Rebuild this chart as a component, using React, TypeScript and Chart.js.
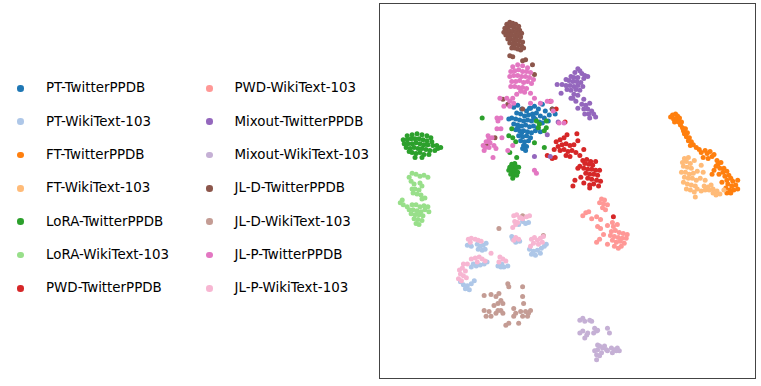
import React, { useEffect, useRef } from "react";
import { Chart, registerables } from "chart.js";

Chart.register(...registerables);

type P = [number, number];

// t-SNE embedding coordinates (arbitrary units, y grows downward)
const PT_TWITTER: P[] = [
  [513,106],[517,104],[521,108],[526,110],[530,107],[534,105],[538,108],[542,103],[545,110],[549,114],
  [516,112],[520,113],[524,115],[528,114],[532,113],[536,112],[540,115],[544,117],[511,117],[515,118],
  [519,119],[523,120],[527,119],[531,120],[535,118],[539,121],[513,123],[517,124],[521,125],[525,124],
  [529,126],[533,125],[537,127],[515,129],[519,130],[523,130],[527,131],[531,132],[535,130],[518,135],
  [522,136],[526,135],[530,137],[520,140],[524,141],[528,140],[523,145],[526,146],[522,148],[525,150],
  [542,122],[548,120],[508,118],[540,131],[529,107],[552,108],[555,113],[533,116],[521,132],[517,127],
];
const PT_WIKI: P[] = [
  [522,222],[525,224],[528,223],[518,225],[512,240],[515,243],[519,242],[511,237],
  [529,250],[533,252],[537,251],[541,249],[544,247],[531,255],[535,256],[540,254],[546,245],
  [497,267],[500,268],[503,268],[507,267],[501,265],
  [466,246],[470,247],[476,245],[479,247],[482,246],[485,244],[477,250],[481,251],[484,250],
  [472,265],[475,267],[479,266],[483,265],[486,263],[470,268],
  [459,283],[462,286],[466,287],[470,285],[473,282],[464,290],[468,291],
];
const FT_TWITTER: P[] = [
  [672,116],[674,114],[677,113],[679,115],[675,118],[678,118],[681,117],[676,121],[680,121],[683,121],
  [682,124],[684,127],[685,130],[687,128],[686,133],[689,132],[688,136],[691,137],[690,140],[693,141],
  [695,144],[692,145],[698,147],[701,149],[703,152],[707,150],[709,153],[712,151],[714,156],[716,154],
  [710,158],[705,157],[719,160],[720,164],[723,162],[718,166],[722,168],[726,168],[729,171],[725,172],
  [721,174],[731,175],[727,176],[733,178],[729,180],[735,181],[724,182],[730,184],[734,186],[738,185],
  [728,188],[732,190],[736,190],[729,193],[733,193],[740,180],[740,189],[716,170],[714,174],
];
const FT_WIKI: P[] = [
  [686,158],[690,157],[684,162],[688,161],[692,163],[696,160],[685,166],[689,167],[693,168],[683,172],
  [687,172],[691,174],[695,173],[699,171],[686,177],[690,178],[694,178],[698,180],[685,182],[689,184],
  [693,185],[697,186],[688,189],[692,190],[696,192],[699,189],[703,191],[707,190],[711,190],[713,185],
  [706,186],[710,187],[715,189],[719,191],[722,194],[718,195],[702,178],[705,172],[703,165],[707,180],
  [715,193],[726,190],[697,197],
];
const LORA_TWITTER: P[] = [
  [405,135],[410,134],[415,133],[420,134],[425,135],[429,137],[401,139],[405,139],[409,138],[413,138],
  [417,138],[421,139],[425,140],[430,141],[402,143],[406,143],[410,143],[414,142],[418,143],[422,144],
  [426,144],[431,145],[435,145],[439,147],[404,147],[408,148],[412,147],[416,148],[420,148],[424,149],
  [428,150],[433,150],[436,148],[410,152],[414,153],[418,152],[422,154],[427,154],[407,151],[420,157],[413,157],
  [511,164],[514,163],[509,167],[512,167],[515,168],[518,167],[508,170],[511,171],[514,171],[517,172],
  [510,174],[513,175],[516,175],[512,178],[515,166],
  [481,117],[511,128],[512,137],[509,152],[516,157],[544,147],[534,142],[544,130],[546,127],[539,123],
  [546,120],[508,135],[515,141],[538,127],[536,120],
];
const LORA_WIKI: P[] = [
  [410,173],[414,174],[418,176],[422,175],[426,177],[407,177],[409,181],[412,184],[418,183],[420,186],
  [410,189],[413,189],[417,190],[411,193],[415,194],[419,195],[420,199],[423,198],
  [400,200],[398,203],[401,205],[405,207],[410,205],[414,205],[418,207],[422,206],[426,207],[407,210],
  [411,210],[415,211],[419,212],[423,210],[427,212],[409,214],[413,215],[417,215],[421,216],[412,219],
  [416,220],[420,221],[414,224],[417,225],
];
const PWD_TWITTER: P[] = [
  [556,141],[560,139],[564,137],[567,134],[577,133],[578,140],[558,146],[562,144],[566,143],[570,145],
  [574,144],[554,149],[560,150],[564,149],[568,151],[572,150],[576,152],[566,155],[570,156],[580,155],
  [584,149],[583,160],[587,159],[591,161],[585,163],[589,164],[593,165],[596,161],[580,166],[584,168],
  [588,169],[592,169],[596,170],[586,173],[590,174],[594,174],[598,175],[581,177],[588,178],[592,179],
  [597,180],[601,181],[584,183],[590,185],[594,184],[599,186],[575,180],[573,186],[578,168],[600,170],
  [555,157],[552,158],[547,155],[590,188],[614,217],[550,100],[556,108],[565,121],
];
const PWD_WIKI: P[] = [
  [602,199],[605,200],[600,203],[604,204],[608,205],[603,208],[606,210],[586,213],[589,212],[583,216],
  [592,219],[597,217],[601,220],[598,227],[601,229],[608,226],[604,235],[600,240],[597,243],[613,223],
  [614,227],[618,225],[612,232],[616,231],[620,233],[624,234],[628,235],[611,236],[615,237],[619,238],
  [623,239],[627,239],[613,241],[617,243],[621,242],[625,244],[615,247],[619,249],[608,245],[622,247],
];
const MIXOUT_TWITTER: P[] = [
  [578,67],[580,69],[575,71],[582,72],[585,74],[571,75],[574,76],[578,76],[584,77],[588,75],
  [566,78],[569,79],[573,80],[577,80],[581,81],[557,83],[562,83],[566,84],[570,84],[574,85],
  [578,84],[583,85],[567,88],[571,89],[576,88],[580,89],[561,92],[574,93],[578,94],[571,97],
  [584,98],[576,100],[582,103],[586,104],[590,102],[578,107],[584,108],[588,108],[592,110],[589,113],
  [594,113],[596,116],[590,117],[585,113],[573,97],[547,134],[534,156],[550,156],[558,121],
];
const MIXOUT_WIKI: P[] = [
  [580,322],[583,320],[585,323],[590,322],[592,323],[580,335],[583,333],[587,337],[588,335],[585,340],
  [595,330],[597,333],[598,332],[594,335],[608,330],[610,335],[598,347],[600,348],[603,350],[607,352],
  [595,353],[597,357],[600,358],[597,362],[602,355],[605,348],[612,350],[615,352],[618,350],[620,353],
  [613,355],[617,353],[608,353],[598,352],
];
const JLD_TWITTER: P[] = [
  [506,22],[509,20],[512,21],[515,22],[518,24],[504,26],[507,25],[510,24],[513,25],[516,27],
  [519,28],[503,30],[506,29],[509,29],[512,29],[515,30],[518,31],[521,31],[505,33],[508,33],
  [511,33],[514,34],[517,34],[520,35],[507,37],[510,37],[513,38],[516,38],[519,39],[522,40],
  [509,41],[512,42],[515,42],[518,43],[521,44],[511,46],[514,46],[517,47],[520,48],[523,46],
  [509,54],[512,55],[522,59],[525,58],[532,63],[534,73],[502,98],[507,103],[522,108],[552,108],
  [494,137],[486,145],
];
const JLD_WIKI: P[] = [
  [507,285],[508,288],[522,288],[483,297],[490,296],[495,298],[498,295],[500,302],[497,305],[502,305],
  [522,298],[523,305],[483,312],[488,313],[485,318],[490,318],[495,315],[500,312],[502,315],[513,310],
  [515,315],[520,313],[525,313],[528,315],[527,318],[522,318],[513,318],[508,325],[505,327],[518,325],
  [497,312],[493,307],[530,312],[498,229],[522,216],[543,236],
];
const JLP_TWITTER: P[] = [
  [512,65],[517,63],[522,64],[527,66],[510,70],[514,69],[518,68],[522,70],[526,70],[530,71],
  [509,75],[513,74],[517,74],[521,75],[525,75],[529,76],[533,78],[511,80],[515,80],[519,79],
  [523,81],[527,80],[531,82],[510,85],[514,85],[518,86],[522,86],[526,87],[520,90],[524,91],
  [530,92],[516,93],[512,97],[534,97],[509,100],
  [487,135],[489,142],[484,147],[492,157],[496,128],[497,120],[496,117],[501,137],[499,97],[506,97],
  [509,105],[534,170],[536,173],[551,100],[559,122],[564,122],[482,145],[485,141],[488,138],[491,137],
  [488,147],[493,145],[483,150],[495,148],[500,128],[500,117],[503,105],[513,102],[530,102],[540,102],
  [547,100],[553,110],[507,150],[512,145],
];
const JLP_WIKI: P[] = [
  [513,216],[516,215],[519,218],[522,219],[526,217],[529,216],[514,222],[517,223],[512,228],[515,238],
  [518,240],[513,241],[520,218],[515,225],
  [531,240],[534,238],[537,241],[540,239],[543,237],[533,244],[538,245],[542,243],[530,247],
  [499,258],[502,260],[505,262],[498,263],
  [467,240],[470,239],[474,240],[477,241],[480,242],[469,243],
  [470,260],[474,259],[478,258],[481,260],[484,262],[476,263],[466,265],[462,265],[490,254],
  [458,271],[461,269],[464,272],[459,275],[462,277],[457,280],[460,282],[465,279],
];

const LABELS = [
  "PT-TwitterPPDB", "PT-WikiText-103", "FT-TwitterPPDB", "FT-WikiText-103",
  "LoRA-TwitterPPDB", "LoRA-WikiText-103", "PWD-TwitterPPDB", "PWD-WikiText-103",
  "Mixout-TwitterPPDB", "Mixout-WikiText-103", "JL-D-TwitterPPDB", "JL-D-WikiText-103",
  "JL-P-TwitterPPDB", "JL-P-WikiText-103",
];
const COLORS = [
  "#1f77b4", "#aec7e8", "#ff7f0e", "#ffbb78", "#2ca02c", "#98df8a", "#d62728",
  "#ff9896", "#9467bd", "#c5b0d5", "#8c564b", "#c49c94", "#e377c2", "#f7b6d2",
];
const SERIES: P[][] = [
  PT_TWITTER, PT_WIKI, FT_TWITTER, FT_WIKI, LORA_TWITTER, LORA_WIKI, PWD_TWITTER,
  PWD_WIKI, MIXOUT_TWITTER, MIXOUT_WIKI, JLD_TWITTER, JLD_WIKI, JLP_TWITTER, JLP_WIKI,
];

const FONT = "'DejaVu Sans', sans-serif";

export default function App() {
  const ref = useRef<HTMLCanvasElement | null>(null);
  useEffect(() => {
    if (!ref.current) return;
    const chart = new Chart(ref.current, {
      type: "scatter",
      data: {
        datasets: SERIES.map((s, i) => ({
          label: LABELS[i],
          data: s.map(([x, y]) => ({ x, y })),
          backgroundColor: COLORS[i],
          borderWidth: 0,
          pointRadius: 2.5,
          pointHoverRadius: 2.5,
          order: SERIES.length - i,
        })),
      },
      options: {
        animation: false,
        responsive: false,
        devicePixelRatio: 1,
        layout: { padding: 0 },
        plugins: { legend: { display: false }, tooltip: { enabled: false } },
        scales: {
          x: { type: "linear", min: 380, max: 756, display: false },
          y: { type: "linear", min: 4, max: 379, reverse: true, display: false },
        },
      },
    });
    return () => chart.destroy();
  }, []);

  return (
    <div style={{ position: "fixed", left: 0, top: 0, width: 761, height: 386, background: "#fff", fontFamily: FONT }}>
      {LABELS.map((lab, i) => {
        const col = i < 7 ? 0 : 1;
        const row = i % 7;
        const cy = 88.3 + row * 33.33;
        const mx = col === 0 ? 20.5 : 209.3;
        const tx = col === 0 ? 46 : 234.5;
        return (
          <React.Fragment key={lab}>
            <div style={{ position: "absolute", left: mx - 3.3, top: cy - 3.3, width: 6.6, height: 6.6, borderRadius: "50%", background: COLORS[i] }} />
            <div style={{ position: "absolute", left: tx, top: cy - 9, height: 18, lineHeight: "18px", fontSize: 13.4, color: "#000", whiteSpace: "nowrap" }}>{lab}</div>
          </React.Fragment>
        );
      })}
      <div style={{ position: "absolute", left: 379, top: 3, width: 375, height: 374, border: "1px solid #444" }} />
      <canvas ref={ref} width={376} height={375} style={{ position: "absolute", left: 380, top: 4, width: 376, height: 375 }} />
    </div>
  );
}
